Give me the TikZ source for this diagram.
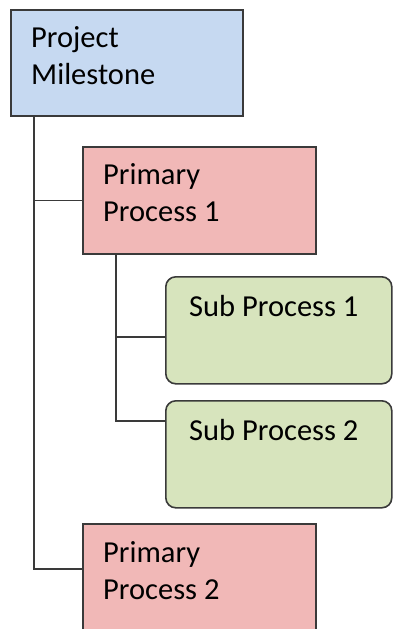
\documentclass[tikz,border=0pt]{standalone}
\usepackage{fontspec}
\setmainfont{Carlito}
\usepackage{tikz}
\usetikzlibrary{positioning, calc}
\usepackage{xcolor}
\definecolor{mileBlue}{HTML}{C6D9F1}
\definecolor{primPink}{HTML}{F1B8B7}
\definecolor{subGreen}{HTML}{D7E4BD}
\definecolor{edgeGrey}{HTML}{3A3A3A}

\begin{document}
\begin{tikzpicture}[
      x=1pt, y=-1pt,
      every node/.style={font=\fontsize{30.5}{37}\selectfont},
      box/.style={draw=edgeGrey, line width=1.6pt, inner sep=0pt,
                  anchor=north west, minimum height=107pt},
      txt/.style={anchor=north west, align=left, inner sep=0pt,
                  xshift=21pt, yshift=-17pt},
      link/.style={draw=edgeGrey, line width=1.6pt},
    ]
      \useasboundingbox (0,0) rectangle (392,629);

      \node[box, fill=mileBlue, minimum width=232pt, minimum height=106pt,
            label={[txt]north west:Project\\Milestone}] (mile) at (10,9) {};
      \node[box, fill=primPink, minimum width=233pt,
            label={[txt]north west:Primary\\Process 1}] (prim1) at (82,146) {};
      \node[box, fill=subGreen, minimum width=226pt, rounded corners=10pt,
            label={[txt, xshift=3pt, yshift=-2pt]north west:Sub Process 1}] (sub1) at (165,276) {};
      \node[box, fill=subGreen, minimum width=226pt, rounded corners=10pt,
            label={[txt, xshift=3pt, yshift=-2pt]north west:Sub Process 2}] (sub2) at (165,400) {};
      \node[box, fill=primPink, minimum width=233pt,
            label={[txt, yshift=-1pt]north west:Primary\\Process 2}] (prim2) at (82,523) {};

      % milestone trunk
      \coordinate (mtop) at ($(mile.south west)+(24,0)$);
      \draw[link] (mtop) |- (prim1.west);
      \draw[link] (mtop) |- ($(prim2.north west)+(0,46)$);

      % sub process trunk
      \coordinate (ptop) at ($(prim1.south west)+(34,0)$);
      \draw[link] (ptop) |- ($(sub1.north west)+(0,61)$);
      \draw[link] (ptop) |- ($(sub2.north west)+(0,21)$);
    \end{tikzpicture}
\end{document}
